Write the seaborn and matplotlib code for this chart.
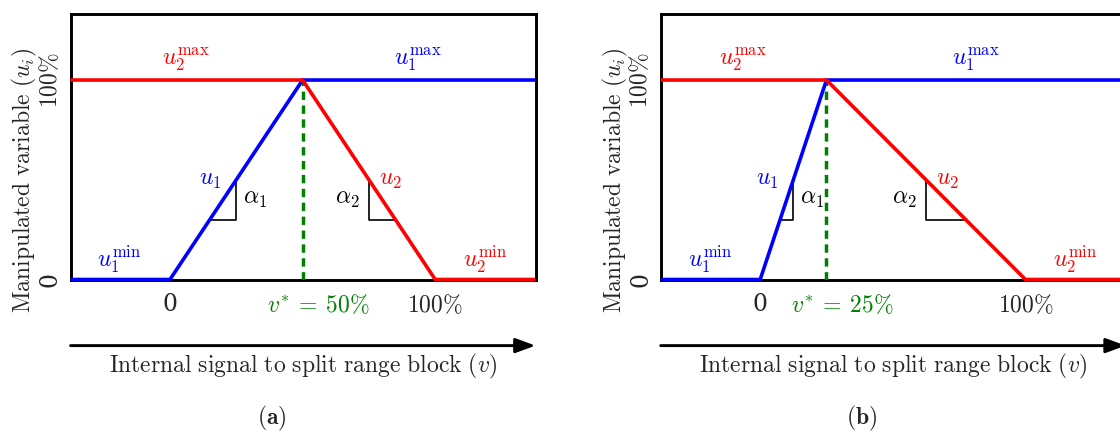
import matplotlib
matplotlib.use("Agg")
import matplotlib.pyplot as plt
import matplotlib.transforms as mtransforms
import numpy as np
import pandas as pd
import seaborn as sns

# ---------------- data ----------------
panel_labels = [r"$(\mathbf{a})$", r"$(\mathbf{b})$"]
v_star = [0.50, 0.25]
v_star_labels = [r"$v^{*} \:=\: 50\%$", r"$v^{*} \:=\: 25\%$"]
v_range = [-0.375, 1.378]          # extent of the internal signal axis
u1_levels = [0, 0, 1, 1]           # u1: min, start ramp, reach max, max
u2_levels = [1, 1, 0, 0]           # u2: max, start ramp, reach min, min
slope_top = 0.5                    # slope-triangle levels
slope_bottom = 0.3
x_ticks = [0, 1]
x_tick_labels = ["0", r"$100\%$"]
y_ticks = [0, 1]
y_tick_labels = ["0", r"$100\%$"]
# label x positions (data units) for the min/max annotations, per panel
u2max_x = [0.06, -0.064]
u1max_x = [0.936, 0.812]
u1min_x = [-0.19, -0.188]
u2min_x = [1.189, 1.189]

# ---------------- style ----------------
sns.set_style("white")
plt.rcParams["mathtext.fontset"] = "cm"
plt.rcParams["font.family"] = ["DejaVu Serif"]
FS = 17
BLUE = "#0000ff"
RED = "#ff0000"
GREEN = "#008000"

W, H = 1120, 432
fig = plt.figure(figsize=(W / 100, H / 100), dpi=100)


def rect(l, t, r, b):
    return [l / W, 1 - b / H, (r - l) / W, (b - t) / H]


axes = [fig.add_axes(rect(70.5, 14, 535.5, 279.5)),
        fig.add_axes(rect(660.7, 14, 1125.7, 279.5))]

for i, ax in enumerate(axes):
    vs = v_star[i]
    u1_x = [v_range[0], 0, vs, v_range[1]]
    u2_x = [v_range[0], vs, 1, v_range[1]]
    df = pd.DataFrame({
        "v": u1_x + u2_x,
        "u": u1_levels + u2_levels,
        "series": ["u1"] * 4 + ["u2"] * 4,
    })
    sns.lineplot(data=df, x="v", y="u", hue="series",
                 palette={"u1": BLUE, "u2": RED}, sort=False, estimator=None,
                 legend=False, ax=ax, lw=2.6, clip_on=False, zorder=6,
                 solid_capstyle="butt", solid_joinstyle="miter")

    # optimal split point
    ax.plot([vs, vs], [0, 1], color=GREEN, lw=2.5, ls=(0, (2.4, 1.6)), zorder=4)

    # slope triangles
    x1_top = vs * slope_top
    x1_bot = vs * slope_bottom
    ax.plot([x1_bot, x1_top, x1_top], [slope_bottom, slope_bottom, slope_top],
            color="black", lw=1.2, zorder=3)
    x2_top = vs + (1 - vs) * (1 - slope_top)
    x2_bot = vs + (1 - vs) * (1 - slope_bottom)
    ax.plot([x2_bot, x2_top, x2_top], [slope_bottom, slope_bottom, slope_top],
            color="black", lw=1.2, zorder=3)

    ax.annotate(r"$u_1$", xy=(x1_top, slope_top), xytext=(-15, 0),
                textcoords="offset pixels", ha="right", va="center",
                color=BLUE, fontsize=FS)
    ax.annotate(r"$\alpha_1$", xy=(x1_top, 0.405), xytext=(7, 0),
                textcoords="offset pixels", ha="left", va="center",
                color="black", fontsize=FS)
    ax.annotate(r"$u_2$", xy=(x2_top, slope_top), xytext=(10, 0),
                textcoords="offset pixels", ha="left", va="center",
                color=RED, fontsize=FS)
    ax.annotate(r"$\alpha_2$", xy=(x2_top, 0.405), xytext=(-9, 0),
                textcoords="offset pixels", ha="right", va="center",
                color="black", fontsize=FS)

    # min / max labels
    ax.text(u2max_x[i], 1.103, r"$u_2^{\max}$", color=RED, fontsize=FS,
            ha="center", va="center")
    ax.text(u1max_x[i], 1.103, r"$u_1^{\max}$", color=BLUE, fontsize=FS,
            ha="center", va="center")
    ax.text(u1min_x[i], 0.103, r"$u_1^{\min}$", color=BLUE, fontsize=FS,
            ha="center", va="center")
    ax.text(u2min_x[i], 0.103, r"$u_2^{\min}$", color=RED, fontsize=FS,
            ha="center", va="center")

    # v* label
    ax.annotate(v_star_labels[i], xy=(vs, 0), xytext=(16, -26),
                textcoords="offset pixels", ha="center", va="center",
                color=GREEN, fontsize=FS, annotation_clip=False)

    ax.set_xlim(v_range)
    ax.set_ylim(0, 1.331)

    # ticks
    ax.set_xticks(x_ticks)
    ax.set_xticklabels(x_tick_labels, fontsize=FS)
    ax.set_yticks(y_ticks)
    ax.set_yticklabels([])
    ax.tick_params(axis="x", length=0, pad=10)
    ax.tick_params(axis="y", length=0)
    ytrans = mtransforms.blended_transform_factory(ax.transAxes, ax.transData)
    for yt, lab in zip(y_ticks, y_tick_labels):
        ax.text(-0.0186, yt, lab, transform=ytrans, rotation=90, ha="right",
                va="center", fontsize=FS)

    for sp in ax.spines.values():
        sp.set_visible(True)
        sp.set_color("black")
        sp.set_linewidth(2.1)

    # axis labels
    ax.set_xlabel(r"$\mathrm{Internal\ signal\ to\ split\ range\ block}\ (v)$",
                  fontsize=FS)
    ax.xaxis.set_label_coords(0.5, -0.326)
    ax.xaxis.label.set_va("center")
    ax.set_ylabel(r"$\mathrm{Manipulated\ variable}\ (u_i)$", fontsize=FS)
    ax.yaxis.set_label_coords(-0.098, 0.373)
    ax.yaxis.label.set_va("center")

    # signal arrow
    ax.annotate("", xy=(1.0, -0.249), xytext=(0.0, -0.249),
                xycoords="axes fraction", textcoords="axes fraction",
                annotation_clip=False,
                arrowprops=dict(arrowstyle="-|>,head_length=0.6,head_width=0.22",
                                mutation_scale=20, lw=2.1, color="black",
                                shrinkA=0, shrinkB=0))

    # panel caption
    ax.text(0.433, -0.522, panel_labels[i], transform=ax.transAxes,
            ha="center", va="center", fontsize=17)

fig.savefig("out.png", dpi=100)
